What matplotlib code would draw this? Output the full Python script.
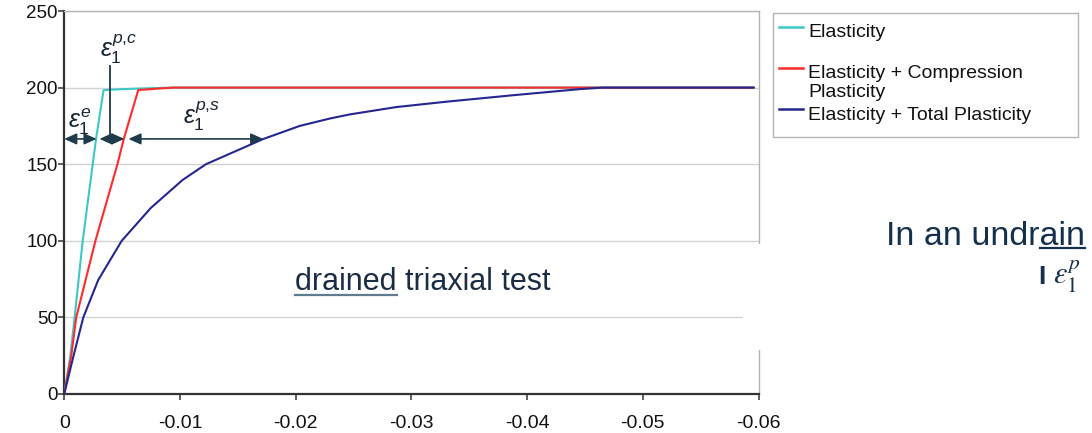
import matplotlib
matplotlib.use("Agg")
import matplotlib.pyplot as plt
from matplotlib.lines import Line2D
from matplotlib.patches import Rectangle

# ---- data: axial strain (negative = compression) vs deviatoric stress ----
strain_el = [0, -0.00052, -0.0009, -0.0016, -0.00275, -0.0034, -0.0050, -0.0070, -0.0094, -0.0596]
stress_el = [0, 24.4, 50, 100, 166.5, 198.3, 199.0, 199.5, 200, 200]

strain_pc = [0, -0.0006, -0.00104, -0.0027, -0.0046, -0.00515, -0.0064, -0.0080, -0.0094, -0.0596]
stress_pc = [0, 24.4, 50, 100, 150, 166.5, 198.4, 199.3, 200, 200]

strain_tp = [0, -0.00079, -0.00165, -0.00294, -0.00497, -0.00748, -0.01023, -0.01225,
             -0.01719, -0.02036, -0.02295, -0.02468, -0.02871, -0.03303, -0.03876,
             -0.04454, -0.04653, -0.0596]
stress_tp = [0, 24.4, 50, 74.4, 100, 121.4, 139.7, 150,
             166.4, 175.0, 179.8, 182.5, 187.3, 190.8, 195.0,
             199.0, 200, 200]

series_labels = ["Elasticity", "Elasticity + Compression\nPlasticity", "Elasticity + Total Plasticity"]
series_colors = ["#3cc8c4", "#ff2a2a", "#262690"]

x_ticks = [0, -0.01, -0.02, -0.03, -0.04, -0.05, -0.06]
x_tick_labels = ["0", "-0.01", "-0.02", "-0.03", "-0.04", "-0.05", "-0.06"]
y_ticks = [0, 50, 100, 150, 200, 250]
y_tick_labels = ["0", "50", "100", "150", "200", "250"]

# strain increments marked at one stress level
arrow_level = 166.5
arrow_spans = [(0.0, -0.0028), (-0.00305, -0.0052), (-0.00555, -0.0172)]
marker_x = -0.0040
marker_top = 214

plt.rcParams['font.family'] = ['Liberation Sans', 'DejaVu Sans']
plt.rcParams['mathtext.fontset'] = 'custom'
plt.rcParams['mathtext.rm'] = 'Liberation Sans'
plt.rcParams['mathtext.it'] = 'Liberation Sans:italic'
plt.rcParams['mathtext.bf'] = 'Liberation Sans:bold'

W, H = 1092, 433
fig = plt.figure(figsize=(W / 100, H / 100), dpi=100)
fig.patch.set_facecolor("white")


def fx(px):
    return px / W


def fy(py):
    return 1 - py / H


ax = fig.add_axes([fx(64.2), fy(394), (758.5 - 64.2) / W, (394 - 11) / H])

for xs, ys, c, lab in zip([strain_el, strain_pc, strain_tp],
                          [stress_el, stress_pc, stress_tp],
                          series_colors, series_labels):
    ax.plot(xs, ys, color=c, lw=1.5, zorder=3, label=lab,
            solid_joinstyle="round", solid_capstyle="round")

ax.set_xlim(0, -0.06)
ax.set_ylim(0, 250)
ax.set_xticks(x_ticks)
ax.set_xticklabels(x_tick_labels)
ax.set_yticks(y_ticks)
ax.set_yticklabels(y_tick_labels)
ax.tick_params(axis="both", direction="out", length=4, width=1.1, color="#333333",
               labelcolor="#111111")
ax.tick_params(axis="y", pad=0.5, labelsize=13.5)
ax.tick_params(axis="x", pad=11, labelsize=14)

ax.yaxis.grid(True, color="#d2d2d2", lw=1)
ax.set_axisbelow(True)
for side in ("left", "bottom"):
    ax.spines[side].set_color("#333333")
    ax.spines[side].set_linewidth(1.6)
for side in ("top", "right"):
    ax.spines[side].set_color("#b4b4b4")
    ax.spines[side].set_linewidth(1.0)

# strain component arrows
arrow_color = "#1f3a4c"
for x0, x1 in arrow_spans:
    ax.annotate("", xy=(x1, arrow_level), xytext=(x0, arrow_level),
                arrowprops=dict(arrowstyle="<|-|>,head_length=0.62,head_width=0.28",
                                color=arrow_color, lw=1.2, shrinkA=0, shrinkB=0,
                                mutation_scale=12), zorder=4)
ax.plot([marker_x, marker_x], [arrow_level, marker_top], color=arrow_color, lw=1.3, zorder=4)

eps_color = "#1a2533"
ax.text(-0.00033, 173.6, r"$\varepsilon_1^{e}$", fontsize=18, color=eps_color,
        ha="left", va="baseline", zorder=5)
ax.text(-0.0031, 220.2, r"$\varepsilon_1^{p{,}c}$", fontsize=18, color=eps_color,
        ha="left", va="baseline", zorder=5)
ax.text(-0.01029, 176.2, r"$\varepsilon_1^{p{,}s}$", fontsize=18, color=eps_color,
        ha="left", va="baseline", zorder=5)

# white panel overlapping the right edge of the chart
fig.add_artist(Rectangle((fx(743), fy(350)), (766 - 743) / W, (350 - 244) / H,
                         transform=fig.transFigure, facecolor="white", edgecolor="none",
                         zorder=10))

# legend box
fig.add_artist(Rectangle((fx(772.7), fy(136.7)), (1078 - 772.7) / W, (136.7 - 12.7) / H,
                         transform=fig.transFigure, facecolor="white", edgecolor="#b4b4b4",
                         lw=1.0, zorder=11))
handle_y = [26.7, 67.7, 109]
text_base = [37.3, 78.3, 120]
for lab, c, hy, ty in zip(series_labels, series_colors, handle_y, text_base):
    fig.add_artist(Line2D([fx(779), fx(803)], [fy(hy), fy(hy)], transform=fig.transFigure,
                          color=c, lw=1.8, zorder=12))
    for k, line in enumerate(lab.split("\n")):
        fig.text(fx(808), fy(ty + 18.4 * k), line, fontsize=14, color="#111111",
                 ha="left", va="baseline", zorder=12)

renderer = fig.canvas.get_renderer()


def text_width(s, size):
    t = fig.text(0, 0, s, fontsize=size)
    w = t.get_window_extent(renderer).width
    t.remove()
    return w


# caption inside the plot
cap_color = "#1b2d45"
cap_x, cap_base = 295, 290
fig.text(fx(cap_x), fy(cap_base), "drained triaxial test", fontsize=22, color=cap_color,
         ha="left", va="baseline", zorder=12)
w_dr = text_width("drained", 22)
fig.add_artist(Line2D([fx(cap_x), fx(cap_x + w_dr)], [fy(cap_base + 4.5)] * 2,
                      transform=fig.transFigure, color="#5f7b8e", lw=1.6, zorder=12))

# text running off the right edge
side_color = "#15304c"
side_right, side_base = 1085, 245
fig.text(fx(side_right), fy(side_base), "In an undrain", fontsize=24.5, color=side_color,
         ha="right", va="baseline", zorder=12)
w_ain = text_width("ain", 24.5)
fig.add_artist(Line2D([fx(side_right - w_ain), fx(side_right)], [fy(side_base + 3.5)] * 2,
                      transform=fig.transFigure, color=side_color, lw=1.6, zorder=12))
fig.text(fx(1038), fy(283.5), "I", fontsize=19, fontweight="bold", color=side_color,
         ha="left", va="baseline", zorder=12)
fig.text(fx(1053), fy(285), r"$\varepsilon_1^p$", fontsize=22, math_fontfamily="stix",
         color=side_color, ha="left", va="baseline", zorder=12)

fig.savefig("out.png", dpi=100, facecolor="white")
